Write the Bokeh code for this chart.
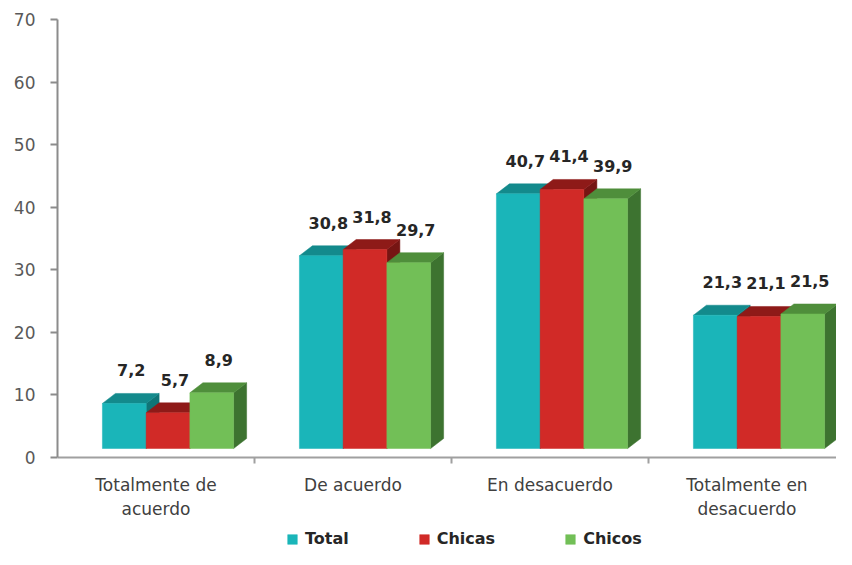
from bokeh.plotting import figure
from bokeh.models import (ColumnDataSource, FixedTicker, Legend, LegendItem)
from bokeh.core.properties import value
from bokeh.embed import file_html
from bokeh.resources import INLINE

categories = ["Totalmente de\nacuerdo", "De acuerdo", "En desacuerdo", "Totalmente en\ndesacuerdo"]
series = ["Total", "Chicas", "Chicos"]
total = [7.2, 30.8, 40.7, 21.3]
chicas = [5.7, 31.8, 41.4, 21.1]
chicos = [8.9, 29.7, 39.9, 21.5]
labels_total = ["7,2", "30,8", "40,7", "21,3"]
labels_chicas = ["5,7", "31,8", "41,4", "21,1"]
labels_chicos = ["8,9", "29,7", "39,9", "21,5"]

front_colors = ["#1AB5B9", "#D12A27", "#72BF57"]
top_colors = ["#138A8C", "#8E1A18", "#4F8E3B"]
side_colors = ["#0F7577", "#761513", "#3D7330"]

FONT = "DejaVu Sans"
LEFT, TOP = 57, 19
WIDTH, HEIGHT = 836, 549
FW = WIDTH - LEFT
FH = HEIGHT - TOP
PX_X = 197.0             # px per category unit
PX_Y = 438.0 / 70.0      # px per y unit
Y_MIN = -(HEIGHT - 457) / PX_Y
lift = 9 / PX_Y          # 3D floor lift
dx = 13 / PX_X
dy = 10 / PX_Y
bar_w = 0.222
first = 0.228

p = figure(frame_width=FW, frame_height=FH, output_backend="svg", toolbar_location=None,
           x_range=(0, FW / PX_X), y_range=(Y_MIN, 70),
           min_border_left=LEFT, min_border_right=0, min_border_top=TOP,
           min_border_bottom=0)
p.outline_line_color = None
p.xgrid.visible = False
p.ygrid.visible = False
p.background_fill_color = "white"

renderers = []
for s, (vals, labs) in enumerate(zip([total, chicas, chicos], [labels_total, labels_chicas, labels_chicos])):
    lefts = [i + first + s * bar_w for i in range(len(vals))]
    rights = [l + bar_w for l in lefts]
    bottoms = [lift] * len(vals)
    tops = [v + lift for v in vals]
    side_xs = [[r, r, r + dx, r + dx] for r in rights]
    side_ys = [[b, t, t + dy, b + dy] for b, t in zip(bottoms, tops)]
    top_xs = [[l, r, r + dx, l + dx] for l, r in zip(lefts, rights)]
    top_ys = [[t, t, t + dy, t + dy] for t in tops]
    p.patches(side_xs, side_ys, fill_color=side_colors[s], line_color=side_colors[s], line_width=0.5)
    p.patches(top_xs, top_ys, fill_color=top_colors[s], line_color=top_colors[s], line_width=0.5)
    r = p.quad(left=lefts, right=rights, bottom=bottoms, top=tops,
               fill_color=front_colors[s], line_color=front_colors[s], line_width=0.5)
    renderers.append(r)
    src = ColumnDataSource(dict(x=[(l + r2) / 2 + 7 / PX_X for l, r2 in zip(lefts, rights)],
                                y=[t + 33 / PX_Y for t in tops], text=labs))
    p.text(x="x", y="y", text="text", source=src, text_align="center", text_baseline="middle",
           text_font=value(FONT), text_font_style="bold", text_font_size="16px", text_color="#262626")

# axes
ya = p.yaxis[0]
ya.ticker = FixedTicker(ticks=list(range(0, 71, 10)))
ya.bounds = (0, 70)
ya.axis_line_color = "#8C8C8C"
ya.axis_line_width = 2
ya.major_tick_line_color = "#8C8C8C"
ya.major_tick_line_width = 2
ya.major_tick_out = 7
ya.major_tick_in = 0
ya.minor_tick_line_color = None
ya.major_label_standoff = 15
ya.major_label_text_font = FONT
ya.major_label_text_font_size = "17px"
ya.major_label_text_color = "#595959"
ya.axis_label = None

xa = p.xaxis[0]
xa.fixed_location = 0
xa.ticker = FixedTicker(ticks=[0.5, 1.5, 2.5, 3.5], minor_ticks=[1, 2, 3])
xa.major_label_overrides = {0.5: categories[0], 1.5: categories[1], 2.5: categories[2], 3.5: categories[3]}
xa.axis_line_color = "#A0A0A0"
xa.axis_line_width = 2
xa.major_tick_out = 0
xa.major_tick_in = 0
xa.minor_tick_out = 6
xa.minor_tick_in = 0
xa.minor_tick_line_color = "#A0A0A0"
xa.minor_tick_line_width = 2
xa.major_label_standoff = 11
xa.major_label_text_font = FONT
xa.major_label_text_font_size = "17px"
xa.major_label_text_color = "#404040"
xa.axis_label = None

legend = Legend(items=[LegendItem(label=n, renderers=[r]) for n, r in zip(series, renderers)],
                orientation="horizontal", location=(286 - LEFT, 1), spacing=69,
                glyph_width=12, glyph_height=12, label_standoff=7,
                label_text_font=FONT, label_text_font_style="bold", label_text_font_size="16px",
                label_text_color="#262626", border_line_color=None, background_fill_alpha=0,
                padding=0, margin=0)
p.add_layout(legend, "center")

open("out.html", "w").write(file_html(p, INLINE))
